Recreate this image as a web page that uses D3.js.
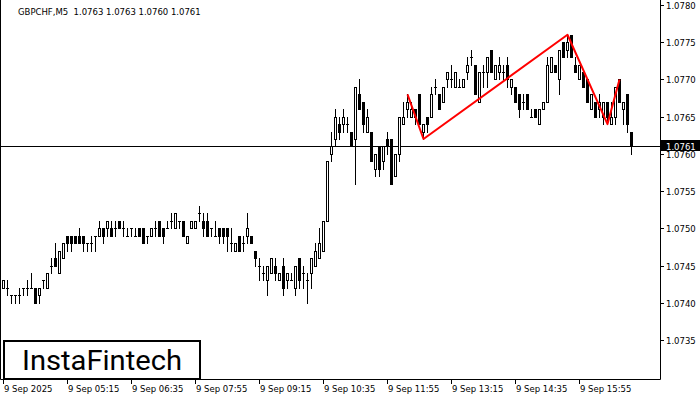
<!DOCTYPE html>
<html><head><meta charset="utf-8">
<script src="https://cdn.jsdelivr.net/npm/d3@7"></script>
<style>
body{margin:0;background:#fff}
svg{display:block}
.ax text{font-family:"DejaVu Sans",Verdana,sans-serif;font-size:8.5px;fill:#000}
</style>
</head><body>
<svg id="chart" width="700" height="400"></svg>
<script>
const symbol = "GBPCHF,M5";
const lastValues = ["1.0763","1.0763","1.0760","1.0761"];
const currentPrice = 1.0761;
const startTime = "2025-09-09T03:55";
const tickLabels = ["9 Sep 2025","9 Sep 05:15","9 Sep 06:35","9 Sep 07:55","9 Sep 09:15","9 Sep 10:35","9 Sep 11:55","9 Sep 13:15","9 Sep 14:35","9 Sep 15:55"];
const tickTimes = ["03:55","05:15","06:35","07:55","09:15","10:35","11:55","13:15","14:35","15:55"];
const priceTicks = [1.0735,1.0740,1.0745,1.0750,1.0755,1.0760,1.0765,1.0770,1.0775,1.0780];

const opens = [
1.0742,1.0742,1.0741,1.0741,1.0741,1.0742,1.0742,1.0742,1.0742,1.0741,
1.0743,1.0742,1.0745,1.0746,1.0744,1.0746,1.0749,1.0749,1.0749,1.0749,
1.0749,1.0748,1.0748,1.0749,1.0749,1.0750,1.0750,1.0750,1.0750,1.0751,
1.0750,1.0749,1.0750,1.0749,1.0750,1.0750,1.0749,1.0749,1.0750,1.0751,
1.0750,1.0750,1.0751,1.0750,1.0751,1.0751,1.0748,1.0750,1.0750,1.0752,
1.0751,1.0751,1.0750,1.0749,1.0750,1.0750,1.0750,1.0748,1.0747,1.0749,
1.0748,1.0749,1.0749,1.0747,1.0745,1.0744,1.0743,1.0744,1.0745,1.0743,
1.0745,1.0743,1.0743,1.0742,1.0746,1.0744,1.0743,1.0744,1.0745,1.0746,
1.0747,1.0751,1.0760,1.0762,1.0764,1.0764,1.0764,1.0763,1.0762,1.0768,
1.0767,1.0763,1.0763,1.0758,1.0761,1.0759,1.0762,1.0762,1.0757,1.0760,
1.0764,1.0766,1.0765,1.0766,1.0768,1.0763,1.0765,1.0765,1.0769,1.0768,
1.0767,1.0770,1.0770,1.0769,1.0769,1.0769,1.0771,1.0773,1.0772,1.0767,
1.0771,1.0771,1.0774,1.0770,1.0771,1.0771,1.0772,1.0769,1.0769,1.0768,
1.0767,1.0768,1.0765,1.0766,1.0764,1.0766,1.0767,1.0771,1.0772,1.0770,
1.0775,1.0774,1.0776,1.0772,1.0770,1.0771,1.0770,1.0766,1.0767,1.0766,
1.0765,1.0767,1.0764,1.0765,1.0770,1.0766,1.0768,1.0763];
const highs = [
1.0743,1.0743,1.0741,1.0741,1.0742,1.0742,1.0743,1.0744,1.0742,1.0742,
1.0743,1.0744,1.0746,1.0748,1.0747,1.0748,1.0749,1.0749,1.0749,1.0750,
1.0749,1.0748,1.0749,1.0749,1.0751,1.0750,1.0751,1.0751,1.0751,1.0751,
1.0751,1.0750,1.0750,1.0750,1.0750,1.0750,1.0749,1.0750,1.0751,1.0751,
1.0750,1.0751,1.0752,1.0752,1.0751,1.0751,1.0749,1.0751,1.0751,1.0753,
1.0752,1.0752,1.0750,1.0751,1.0750,1.0750,1.0750,1.0750,1.0748,1.0749,
1.0749,1.0752,1.0749,1.0747,1.0746,1.0745,1.0745,1.0746,1.0746,1.0744,
1.0746,1.0744,1.0744,1.0745,1.0746,1.0745,1.0744,1.0746,1.0748,1.0750,
1.0751,1.0759,1.0763,1.0766,1.0765,1.0766,1.0765,1.0763,1.0769,1.0770,
1.0767,1.0766,1.0763,1.0760,1.0761,1.0761,1.0763,1.0762,1.0760,1.0765,
1.0767,1.0768,1.0767,1.0766,1.0768,1.0764,1.0765,1.0769,1.0770,1.0768,
1.0769,1.0771,1.0772,1.0771,1.0770,1.0770,1.0773,1.0774,1.0772,1.0771,
1.0772,1.0773,1.0774,1.0772,1.0773,1.0772,1.0773,1.0770,1.0769,1.0768,
1.0768,1.0768,1.0766,1.0766,1.0766,1.0767,1.0773,1.0773,1.0772,1.0774,
1.0775,1.0776,1.0776,1.0773,1.0772,1.0771,1.0770,1.0768,1.0767,1.0768,
1.0767,1.0767,1.0767,1.0769,1.0770,1.0767,1.0768,1.0763];
const lows = [
1.0742,1.0741,1.0740,1.0740,1.0740,1.0741,1.0741,1.0742,1.0740,1.0740,
1.0742,1.0742,1.0744,1.0745,1.0744,1.0746,1.0747,1.0747,1.0748,1.0748,
1.0747,1.0747,1.0747,1.0747,1.0749,1.0748,1.0749,1.0749,1.0749,1.0750,
1.0749,1.0749,1.0749,1.0749,1.0749,1.0748,1.0748,1.0749,1.0749,1.0749,
1.0748,1.0750,1.0750,1.0750,1.0750,1.0749,1.0748,1.0750,1.0750,1.0751,
1.0749,1.0749,1.0749,1.0749,1.0748,1.0748,1.0747,1.0747,1.0747,1.0747,
1.0747,1.0748,1.0748,1.0745,1.0743,1.0743,1.0741,1.0744,1.0743,1.0743,
1.0741,1.0742,1.0743,1.0741,1.0742,1.0742,1.0740,1.0742,1.0745,1.0746,
1.0747,1.0751,1.0759,1.0761,1.0762,1.0763,1.0763,1.0761,1.0756,1.0766,
1.0763,1.0763,1.0759,1.0757,1.0757,1.0758,1.0760,1.0756,1.0757,1.0759,
1.0764,1.0765,1.0765,1.0764,1.0764,1.0762,1.0763,1.0765,1.0768,1.0766,
1.0767,1.0769,1.0769,1.0769,1.0769,1.0769,1.0770,1.0772,1.0768,1.0767,
1.0769,1.0769,1.0771,1.0770,1.0770,1.0770,1.0769,1.0768,1.0767,1.0765,
1.0766,1.0766,1.0765,1.0765,1.0764,1.0766,1.0767,1.0771,1.0771,1.0768,
1.0773,1.0773,1.0773,1.0771,1.0770,1.0769,1.0767,1.0766,1.0765,1.0765,
1.0764,1.0764,1.0764,1.0764,1.0767,1.0764,1.0763,1.0760];
const closes = [
1.0743,1.0742,1.0741,1.0741,1.0741,1.0742,1.0742,1.0742,1.0740,1.0742,
1.0743,1.0744,1.0745,1.0745,1.0747,1.0748,1.0748,1.0748,1.0748,1.0748,
1.0748,1.0748,1.0748,1.0749,1.0750,1.0749,1.0751,1.0749,1.0750,1.0750,
1.0750,1.0749,1.0750,1.0749,1.0749,1.0748,1.0749,1.0750,1.0750,1.0749,
1.0749,1.0750,1.0751,1.0752,1.0751,1.0749,1.0749,1.0751,1.0751,1.0752,
1.0750,1.0749,1.0750,1.0749,1.0749,1.0749,1.0749,1.0748,1.0748,1.0747,
1.0748,1.0750,1.0748,1.0746,1.0745,1.0744,1.0745,1.0746,1.0744,1.0744,
1.0742,1.0744,1.0743,1.0745,1.0743,1.0744,1.0743,1.0746,1.0747,1.0748,
1.0751,1.0759,1.0761,1.0765,1.0763,1.0765,1.0764,1.0761,1.0769,1.0766,
1.0764,1.0765,1.0759,1.0760,1.0758,1.0761,1.0761,1.0756,1.0760,1.0765,
1.0765,1.0767,1.0766,1.0765,1.0764,1.0764,1.0764,1.0768,1.0769,1.0766,
1.0769,1.0771,1.0770,1.0771,1.0769,1.0770,1.0772,1.0773,1.0768,1.0771,
1.0771,1.0773,1.0771,1.0772,1.0772,1.0771,1.0770,1.0770,1.0767,1.0766,
1.0767,1.0766,1.0765,1.0765,1.0766,1.0767,1.0772,1.0773,1.0771,1.0774,
1.0773,1.0775,1.0773,1.0771,1.0772,1.0769,1.0767,1.0768,1.0765,1.0767,
1.0767,1.0765,1.0765,1.0769,1.0767,1.0767,1.0764,1.0761];

// pattern drawn in red
const patternBars = [101,105,141,151,154];
const patternPrices = [1.0768,1.0762,1.0776,1.0764,1.0770];

// categories: bar times (5 minute bars)
const t0 = new Date(startTime);
const times = opens.map((_, i) => d3.timeMinute.offset(t0, 5 * i));
const fmtHM = d3.timeFormat("%H:%M");

const svg = d3.select("#chart");
const plotRight = 660, plotBottom = 379;
const n = opens.length;
const x = d3.scaleLinear().domain([0, n - 1]).range([3.5, 3.5 + 4 * (n - 1)]);
const y = d3.scaleLinear().domain([1.0735, 1.0780]).range([340, 5]);
const ry = v => Math.round(y(v));

svg.append("rect").attr("width",700).attr("height",400).attr("fill","#fff");

// current price line
svg.append("line").attr("x1",0).attr("x2",plotRight).attr("y1",ry(currentPrice)+0.5).attr("y2",ry(currentPrice)+0.5)
  .attr("stroke","#000").attr("stroke-width",1);

// candles
const g = svg.append("g");
const idx = d3.range(n);
g.selectAll("line.w").data(idx).join("line").attr("class","w")
  .attr("x1", i => x(i)).attr("x2", i => x(i))
  .attr("y1", i => ry(highs[i])).attr("y2", i => ry(lows[i]) + 1)
  .attr("stroke","#000").attr("stroke-width",1);
idx.forEach(i => {
  const o = opens[i], c = closes[i];
  const cx = x(i);
  if (Math.abs(o - c) < 1e-7) {
    g.append("line").attr("x1", cx - 1.5).attr("x2", cx + 1.5)
      .attr("y1", ry(c) + 0.5).attr("y2", ry(c) + 0.5).attr("stroke","#000");
  } else if (c > o) {
    const top = ry(c), bot = ry(o);
    g.append("rect").attr("x", cx - 1).attr("y", top + 0.5).attr("width", 2).attr("height", Math.max(bot - top, 1))
      .attr("fill","#fff").attr("stroke","#000").attr("stroke-width",1);
  } else {
    const top = ry(o), bot = ry(c);
    g.append("rect").attr("x", cx - 1.5).attr("y", top).attr("width", 3).attr("height", Math.max(bot - top + 1, 1))
      .attr("fill","#000");
  }
});

// red pattern line
svg.append("path")
  .datum(patternBars.map((b, k) => [x(b), y(patternPrices[k])]))
  .attr("d", d3.line())
  .attr("fill","none").attr("stroke","#ff0000").attr("stroke-width",2).attr("stroke-linejoin","round");

// frame
svg.append("path").attr("d", `M0.5,0 V${plotBottom+0.5} H${plotRight+0.5} V0`)
  .attr("fill","none").attr("stroke","#000").attr("stroke-width",1);

// right axis
const ax = svg.append("g").attr("class","ax");
ax.selectAll("line.t").data(priceTicks).join("line").attr("class","t")
  .attr("x1", plotRight).attr("x2", plotRight + 4)
  .attr("y1", d => ry(d) + 0.5).attr("y2", d => ry(d) + 0.5).attr("stroke","#000");
ax.selectAll("text.p").data(priceTicks).join("text").attr("class","p")
  .attr("x", plotRight + 6).attr("y", d => ry(d) + 3.5)
  .text(d => d.toFixed(4));

// current price label (covers the top of the 1.0760 label, as in the reference)
svg.append("rect").attr("x", plotRight + 1).attr("y", ry(currentPrice) - 6).attr("width", 39).attr("height", 11).attr("fill","#000");
svg.append("text").attr("x", plotRight + 6).attr("y", ry(currentPrice) + 3.5)
  .attr("font-family","DejaVu Sans, Verdana, sans-serif").attr("font-size","8.5px").attr("fill","#fff")
  .text(currentPrice.toFixed(4));

// bottom axis
const tickIdx = idx.filter(i => tickTimes.includes(fmtHM(times[i])));
ax.selectAll("line.bt").data(tickIdx).join("line").attr("class","bt")
  .attr("x1", i => x(i)).attr("x2", i => x(i))
  .attr("y1", plotBottom + 1).attr("y2", plotBottom + 5).attr("stroke","#000");
ax.selectAll("text.bl").data(tickIdx).join("text").attr("class","bl")
  .attr("x", i => x(i) + 0.5).attr("y", 392)
  .text(i => tickLabels[tickTimes.indexOf(fmtHM(times[i]))]);

// header
ax.append("text").attr("x", 18).attr("y", 15)
  .text(symbol + "\u00a0\u00a0" + lastValues.join(" "));

// logo
svg.append("rect").attr("x", 4).attr("y", 341).attr("width", 196).attr("height", 38)
  .attr("fill","#fff").attr("stroke","#000").attr("stroke-width",2);
svg.append("text").attr("x", 22).attr("y", 370)
  .attr("font-family","Roboto, 'Open Sans', sans-serif").attr("font-size","28px").attr("fill","#000")
  .attr("textLength", 160).attr("lengthAdjust","spacingAndGlyphs")
  .text("InstaFintech");
</script>
</body></html>
